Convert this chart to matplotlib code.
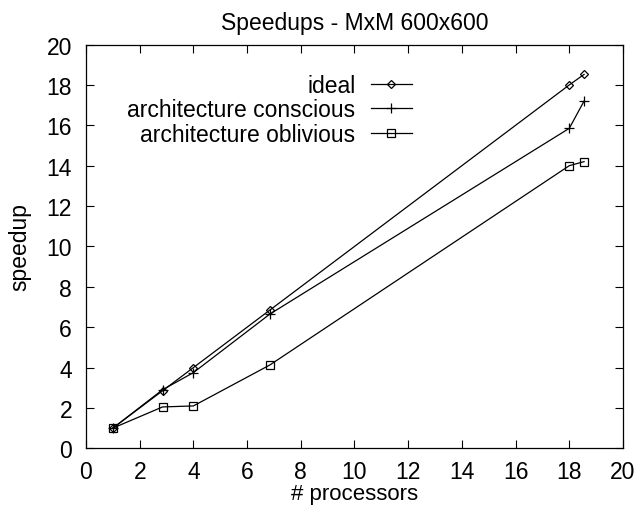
import matplotlib
matplotlib.use("Agg")
import matplotlib.pyplot as plt

plt.rcParams['font.family'] = ['Liberation Sans', 'DejaVu Sans']

# speedup data
procs = [1, 2.85, 4, 6.85, 18.0, 18.55]
ideal = [1, 2.85, 4, 6.85, 18.0, 18.52]
conscious = [1, 2.9, 3.75, 6.65, 15.85, 17.2]
oblivious = [1, 2.05, 2.1, 4.13, 14.0, 14.2]

xticks = list(range(0, 21, 2))
yticks = list(range(0, 21, 2))

fig = plt.figure(figsize=(6.37, 5.06), dpi=100)
ax = fig.add_axes([0.135, 0.112, 0.843, 0.798])

ax.plot(procs, ideal, color='black', lw=0.9, marker='D', ms=4.5,
        mfc='none', mew=0.9, label='ideal')
ax.plot(procs, conscious, color='black', lw=0.9, marker='+', ms=7,
        mew=0.9, label='architecture conscious')
ax.plot(procs, oblivious, color='black', lw=0.9, marker='s', ms=6,
        mfc='none', mew=0.9, label='architecture oblivious')

ax.set_xlim(0, 20)
ax.set_ylim(0, 20)
ax.set_xticks(xticks)
ax.set_yticks(yticks)
ax.tick_params(direction='in', top=True, right=True, labelsize=16.5,
               length=6, width=0.8)
ax.tick_params(axis='y', pad=10)
ax.tick_params(axis='x', pad=8.5)
for s in ax.spines.values():
    s.set_linewidth(0.9)

ax.set_title('Speedups - MxM 600x600', fontsize=16.5, pad=11)
ax.set_xlabel('# processors', fontsize=16, labelpad=0)
ax.set_ylabel('speedup', fontsize=16.5, labelpad=11)

ax.legend(loc='upper right', bbox_to_anchor=(0.625, 0.949), frameon=False,
          markerfirst=False, fontsize=16.5, handlelength=1.83, handletextpad=0.65,
          labelspacing=0.05, borderaxespad=0)

fig.savefig('out.png', dpi=100)
